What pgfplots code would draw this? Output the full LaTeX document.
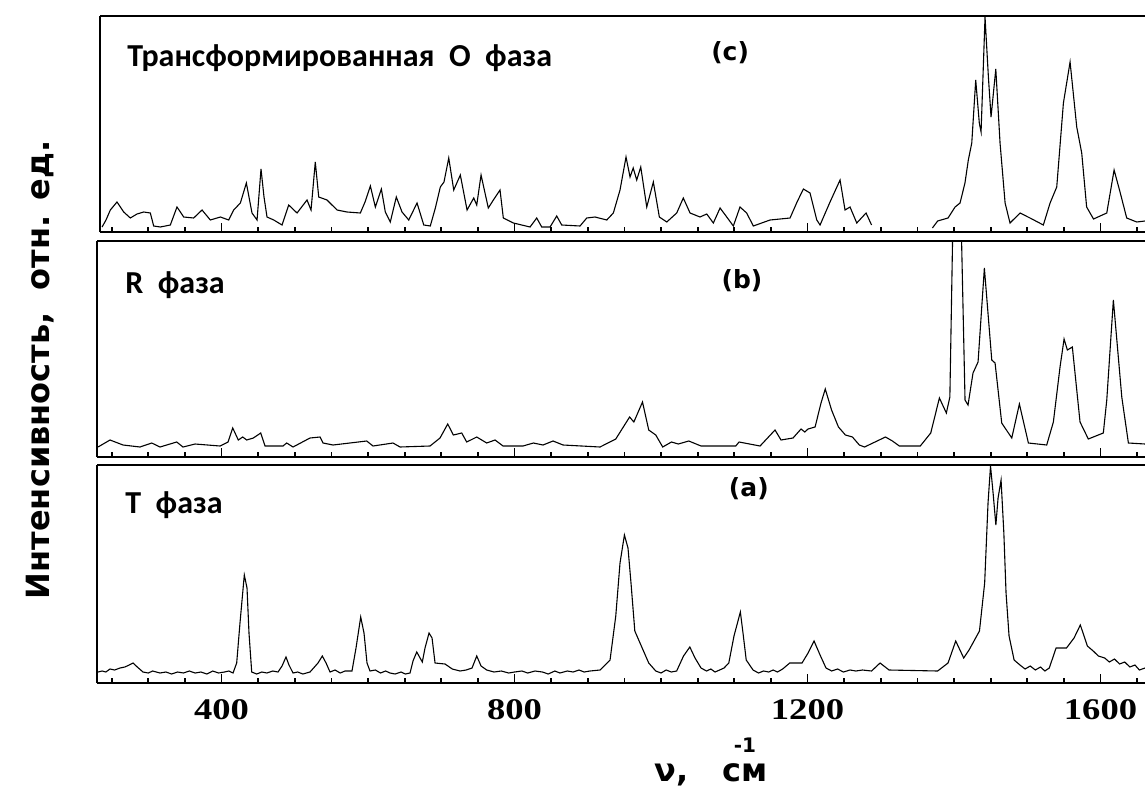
\documentclass[border=0pt]{standalone}
\usepackage{fontspec}
\usepackage{pgfplots}
\pgfplotsset{compat=1.18}
\setmainfont{DejaVu Sans}
\newfontfamily\calfont{Carlito}
\newfontfamily\serfont{Liberation Serif}[FakeStretch=1.22]
\newcommand{\labfont}{\fontsize{16}{18}\selectfont\bfseries}
\newcommand{\panfont}{\calfont\fontsize{16}{18}\selectfont\bfseries}
\newcommand{\letfont}{\fontsize{12.5}{14}\selectfont\bfseries}
\pgfplotsset{
  panel/.style={
    scale only axis, anchor=south west,
    width=524pt,
    xmin=230, xmax=1660.7, ymin=0, ymax=216,
    axis x line*=box, axis y line*=left,
    ytick=\empty,
    xtick={400,800,1200,1600},
    minor xtick={250,300,...,1650},
    tick pos=left, tick align=inside,
    major tick length=4.5pt, minor tick length=2.6pt,
    every tick/.style={black, line width=0.9pt},
    axis line style={line width=1.1pt},
    xticklabels=\empty,
    unbounded coords=jump,
    clip=true,
  },
  spec/.style={black, line width=0.55pt, mark=none},
}
\begin{document}
\begin{tikzpicture}
\useasboundingbox (0,0) rectangle (572.5pt,394.5pt);
% ---------------- panel (a) T phase ----------------
\begin{axis}[panel, at={(48.5pt,53pt)}, height=109pt, ymax=218,
  xticklabels={400,800,1200,1600},
  xticklabel style={font=\serfont\bfseries\fontsize{15}{15}\selectfont, yshift=-4.5pt},
  xlabel={ν,\ \ \ см},
  xlabel style={font=\labfont, at={(axis description cs:0.532,-0.45)}, anchor=base west, inner sep=0pt},
]
\addplot[spec] coordinates {
(231.4,11)(237,12)(242,11)(247.8,14)(254,13)(261.4,15)(268,16)(274,18)(279.2,20)(285,16)
(292.8,11)(300,10)(306,12)(316,10)(324,11)(332,9)(340,11)(348,10)(356,12)(364,10)(372,11)
(380,9)(388,12)(396,10)(404,11)(410,12)(415.7,10)
(420.7,20)(425.2,60)(431.1,108)(434.8,95)(437.5,50)(441.2,11)(448,9)(455,11)(462,10)(470,12)(477.1,11)
(482.6,17)(488.0,26)(492.1,18)(497.6,10)(504,11)(511,9)(520.8,11)(531.7,20)(537.6,27)(542.7,20)
(548.1,11)(555,13)(562,10)(568.6,12)(578.1,12)(583.6,35)(590.0,66)(594.5,50)(598.6,20)
(602.7,12)(610,13)(617,10)(624,12)(630,10)(637,9)(645,11)(651,9)(657.3,10)
(661.4,22)(666.5,31)(674.1,21)(677.8,35)(683.3,50)(687.4,45)(691.5,20)(705.1,19)(715,14)(725.6,12)
(734,13)(742.0,15)(748.4,27)(754.3,17)(762,13)(772,11)(782,12)(792,10)(800,11)(810,12)(818,10)
(828,12)(838,11)(846,9)(855,12)(862,10)(872,12)(880,11)(888,13)(895,11)(903,12)(916.7,13)(930.4,23)
(938.2,67)(944.0,120)(950.0,148)(954.9,135)(959.0,100)(964.2,52)(971.3,40)(983.2,20)
(992.8,12)(1000,10)(1007,13)(1014,11)(1021.3,12)
(1030.7,27)(1039.3,36)(1046.4,25)(1054.6,15)(1062,12)(1068,14)(1073.7,11)(1080,13)(1086,15)(1092.5,20)(1099.6,47)
(1108.3,71)(1111.9,50)(1116.3,23)(1125.6,13)(1133,10)(1140,12)(1147,11)(1153,13)(1159,11)(1166,14)
(1175.7,20)(1192.5,20)(1200.7,30)
(1208.9,42)(1217.1,28)(1225.2,15)(1233,12)(1241,14)(1249,11)(1258,13)(1266,12)(1275,13)(1287.4,12)
(1299.0,20)(1311.3,13)(1377.6,12)
(1391.8,20)(1402.3,42)(1413.2,25)(1420.5,33)(1434.7,52)(1441.8,100)(1446.4,180)(1449.8,217)
(1453.3,190)(1457.1,158)(1460.1,185)(1464.2,203)(1468.0,150)(1471.0,90)(1475.1,47)(1482.0,23)
(1490,18)(1497,14)(1504,17)(1511,13)(1518,16)(1524,12)(1530,15)
(1539.3,35)(1553.5,35)(1563.8,45)(1572.4,58)(1582.0,37)(1590,32)(1597,27)(1605.7,25)
(1612,21)(1619,24)(1626,19)(1633,21)(1640,16)(1647,18)(1653,13)(1660.7,15)
};
\node[font=\panfont, anchor=base west, inner sep=0pt] at (axis description cs:0.0267,0.778) {T\ \ фаза};
\node[font=\letfont] at (axis description cs:0.622,0.89) {(a)};
\end{axis}
\node[font=\fontsize{10}{10}\selectfont\bfseries, inner sep=0pt] at (372.5pt,22pt) {-1};
% ---------------- panel (b) R phase ----------------
\begin{axis}[panel, at={(48.5pt,166pt)}, height=108pt,
  ylabel={Интенсивность,\ \ отн. ед.},
  ylabel style={font=\labfont, at={(axis description cs:-0.0544,0.403)}, anchor=center},
]
\addplot[spec] coordinates {
(231.4,10)(247.8,17)(265.5,12)(288.7,10)(304.7,14)(316.0,10)(338.8,15)(347.4,10)(363.8,13)
(398.0,11)(408.9,15)(415.3,29)(422.9,17)(428.9,20)(434.4,17)(443.4,19)(453.5,24)(459.4,11)
(483.9,11)(489.0,14)(497.6,10)(520.8,19)(534.5,20)(538.6,14)(552.2,12)(598.2,16)(606.8,11)
(634.1,14)(643.7,10)(684.6,11)(698.3,19)(708.8,33)(716.5,22)(727.9,24)(734.7,15)(748.4,20)
(762.0,14)(773.4,17)(784.3,11)(811.6,11)(825.7,14)(838.9,12)(852.6,16)(866.2,12)(916.7,10)
(938.2,18)(957.1,40)(962.9,35)(974.7,55)(983.2,27)(992.8,22)(1002.3,10)(1014.2,15)(1023.6,13)
(1037.9,16)(1054.6,11)(1102.0,11)(1106.5,15)(1135.2,11)(1155.6,27)(1163.8,17)(1180.2,19)
(1191.1,28)(1196.2,25)(1200.7,28)(1210.3,30)(1218.4,54)(1224.2,68)(1232.8,47)(1242.2,30)
(1251.7,22)(1261.3,20)(1270.7,12)(1277.8,10)(1306.4,20)(1315.9,16)(1325.3,11)(1353.9,11)
(1368.2,24)(1380.0,59)(1389.5,44)(1394.3,60)(1399.0,260)(1409.0,260)(1415.0,57)(1419.1,52)
(1425.9,84)(1432.8,95)(1441.4,189)(1451.5,97)(1456.0,94)(1465.1,34)(1478.8,19)(1489.2,53)
(1501.5,14)(1526.5,12)(1535.6,35)(1544.7,90)(1550.2,118)(1554.7,107)(1561.5,110)(1572.0,35)
(1583.3,18)(1603.8,24)(1608.5,57)(1617.5,157)(1629.0,60)(1638.0,14)(1660.7,13)
};
\node[font=\panfont, anchor=base west, inner sep=0pt] at (axis description cs:0.0267,0.758) {R\ \ фаза};
\node[font=\letfont] at (axis description cs:0.6155,0.815) {(b)};
\end{axis}
% ---------------- panel (c) transformed O phase ----------------
\begin{axis}[panel, at={(50pt,278.5pt)}, height=108pt, width=522.5pt, xmin=234.1,
]
\addplot[spec] coordinates {
(236.9,5)(242.3,12)(248.2,22)(257.3,30)(266.5,20)(275.5,14)(284.6,18)(293.8,20)(302.8,19)
(307.4,6)(316.4,5)(330.1,7)(339.2,25)(348.4,15)(362.0,14)(373.4,22)(384.7,12)(398.4,15)
(409.8,12)(416.6,22)(425.7,29)(433.9,49)(441.6,19)(448.5,12)(453.9,63)(458.0,35)(462.1,15)
(471.3,12)(482.6,7)(491.7,27)(503.1,19)(516.7,32)(522.2,22)(528.0,70)(532.7,35)(544.0,32)
(557.7,22)(571.3,20)(589.5,19)(595.9,30)(603.2,46)(610.0,25)(618.2,43)(623.6,20)(630.4,10)
(638.6,35)(646.4,20)(655.6,12)(666.9,29)(676.1,7)(685.0,6)(691.9,24)(698.7,45)(703.7,50)
(710.2,74)(717.0,42)(726.0,57)(735.2,22)(744.3,34)(748.4,27)(754.3,57)(764.2,24)(771.1,32)
(780.2,42)(784.7,14)(798.4,9)(821.2,5)(830.3,14)(837.1,5)(848.5,5)(857.6,16)(864.4,7)
(889.4,6)(898.6,14)(909.9,15)(925.9,12)(934.9,19)(944.0,42)(952.2,75)(957.7,55)(962.0,64)
(966.8,52)(972.3,65)(980.5,25)(989.5,50)(997.7,15)(1007.8,10)(1021.4,19)(1030.4,34)(1039.6,19)
(1053.2,15)(1062.4,18)(1071.4,9)(1080.6,24)(1089.7,15)(1098.7,6)(1107.8,25)(1116.9,19)
(1126.0,6)(1148.8,12)(1176.1,14)(1185.7,30)(1194.3,43)(1203.4,39)(1212.6,12)(1217.1,7)
(1230.7,30)(1244.4,52)(1251.2,22)(1258.0,25)(1267.2,9)(1279.9,19)(1287.4,7)
(1330,nan)
(1370.5,4)(1377.6,11)(1391.8,14)(1401.4,25)(1408.2,29)(1414.9,49)(1419.5,72)(1424.2,89)
(1429.6,152)(1434.5,109)(1436.9,100)(1442.3,215)(1446.9,155)(1450.5,115)(1457.0,163)(1462.8,89)
(1469.7,29)(1476.4,9)(1490.1,19)(1503.7,14)(1521.9,7)(1531.1,29)(1540.2,45)(1549.3,129)
(1558.4,170)(1567.5,105)(1574.3,79)(1581.0,25)(1590.4,13)(1608.5,19)(1618.5,62)(1626.6,40)
(1635.7,14)(1649.4,10)(1660.7,11)
};
\node[font=\panfont, anchor=base west, inner sep=0pt] at (axis description cs:0.0258,0.765) {Трансформированная\ \ О\ \ фаза};
\node[font=\letfont] at (axis description cs:0.603,0.829) {(c)};
\end{axis}
\end{tikzpicture}
\end{document}
